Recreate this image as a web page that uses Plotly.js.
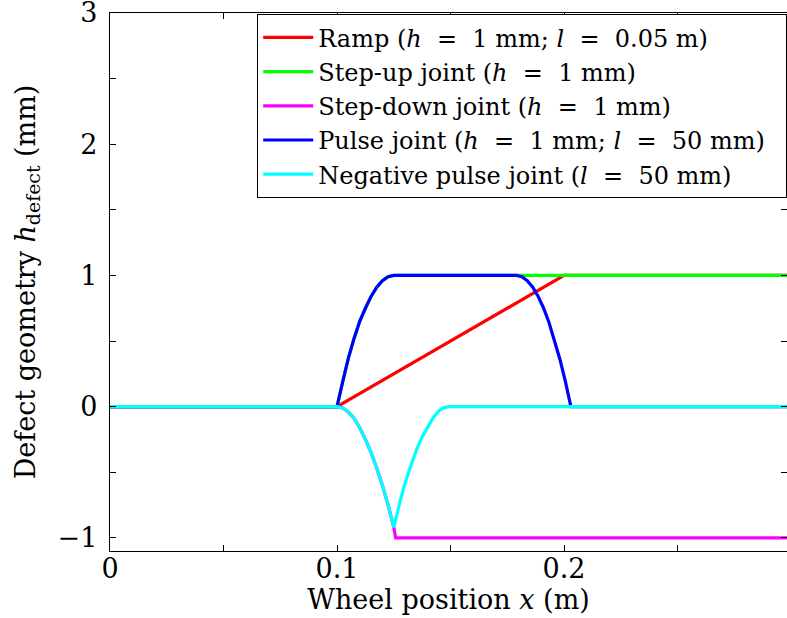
<!DOCTYPE html>
<html>
<head>
<meta charset="utf-8">
<script src="https://cdn.plot.ly/plotly-3.0.1.min.js"></script>
<style>html,body{margin:0;padding:0;background:#fff;}#chart{width:787px;height:618px;}</style>
</head>
<body>
<div id="chart"></div>
<script>
// Series names (extra non-breaking spaces mimic the wide math spacing round "=")
const EQ = '\u00a0\u00a0=\u00a0\u00a0';
const seriesNames = [
  'Ramp (<i>h</i>' + EQ + '1 mm; <i>l</i>' + EQ + '0.05 m)',
  'Step-up joint (<i>h</i>' + EQ + '1 mm)',
  'Step-down joint (<i>h</i>' + EQ + '1 mm)',
  'Pulse joint (<i>h</i>' + EQ + '1 mm; <i>l</i>' + EQ + '50 mm)\u00a0\u00a0',
  'Negative pulse joint (<i>l</i>' + EQ + '50 mm)'
];
const seriesColors = ['#ff0000', '#00ff00', '#ff00ff', '#0000ff', '#00ffff'];

// Ramp
const rampX = [0, 0.1, 0.2, 0.3];
const rampY = [0, 0, 1, 1];

// Step-up joint
const stepUpX = [0, 0.1, 0.1025, 0.105, 0.1075, 0.11, 0.1125, 0.115, 0.1175, 0.12, 0.1225, 0.125, 0.3];
const stepUpY = [0, 0, 0.19, 0.37, 0.52, 0.65, 0.75, 0.84, 0.91, 0.96, 0.99, 1, 1];

// Step-down joint
const stepDownX = [0, 0.1, 0.1025, 0.105, 0.1075, 0.11, 0.1125, 0.115, 0.1175, 0.12, 0.1225, 0.125, 0.1258, 0.3];
const stepDownY = [0, 0, -0.01, -0.04, -0.09, -0.16, -0.25, -0.35, -0.47, -0.6, -0.75, -0.92, -1, -1];

// Pulse joint
const pulseX = [0, 0.1, 0.1025, 0.105, 0.1075, 0.11, 0.1125, 0.115, 0.1175, 0.12, 0.1225, 0.125,
                0.179, 0.1814, 0.1838, 0.1862, 0.1886, 0.191, 0.1934, 0.1958, 0.1982, 0.2006, 0.203, 0.3];
const pulseY = [0, 0, 0.19, 0.37, 0.52, 0.65, 0.75, 0.84, 0.91, 0.96, 0.99, 1,
                1, 0.99, 0.96, 0.91, 0.84, 0.75, 0.64, 0.51, 0.36, 0.19, 0, 0];

// Negative pulse joint
const negPulseX = [0, 0.1, 0.1025, 0.105, 0.1075, 0.11, 0.1125, 0.115, 0.1175, 0.12, 0.1225, 0.125,
                   0.1275, 0.13, 0.1325, 0.135, 0.1375, 0.14, 0.1425, 0.145, 0.1475, 0.1495, 0.3];
const negPulseY = [0, 0, -0.01, -0.04, -0.09, -0.16, -0.25, -0.35, -0.47, -0.6, -0.75, -0.92,
                   -0.74, -0.58, -0.45, -0.33, -0.23, -0.15, -0.08, -0.03, -0.005, 0, 0];

// Axis ticks
const xTickVals = [0, 0.1, 0.2];
const xTickText = ['0', '0.1', '0.2'];
const yTickVals = [-1, 0, 1, 2, 3];
const yTickText = ['\u22121', '0', '1', '2', '3'];

const xs = [rampX, stepUpX, stepDownX, pulseX, negPulseX];
const ys = [rampY, stepUpY, stepDownY, pulseY, negPulseY];

const traces = xs.map((x, i) => ({
  type: 'scatter', mode: 'lines', x: x, y: ys[i], name: seriesNames[i],
  line: {color: seriesColors[i], width: 3.2}
}));

const FONT = '"DejaVu Serif", "Liberation Serif", serif';

const layout = {
  width: 787, height: 618,
  margin: {l: 110, r: 0, t: 13, b: 67},
  paper_bgcolor: '#fff', plot_bgcolor: '#fff',
  font: {family: FONT, color: '#000', size: 27},
  showlegend: true,
  legend: {
    x: 1, xanchor: 'right', y: 0.998, yanchor: 'top',
    bgcolor: '#fff', bordercolor: '#000', borderwidth: 1.2,
    font: {family: FONT, size: 24, color: '#000'},
    itemwidth: 50,
    tracegroupgap: 0
  },
  xaxis: {
    range: [0, 0.2982], showgrid: false, zeroline: false,
    showline: true, linecolor: '#000', linewidth: 1.2, mirror: 'ticks',
    ticks: 'inside', ticklen: 6, tickwidth: 1, tickcolor: '#000',
    tickvals: xTickVals, ticktext: xTickText,
    minor: {dtick: 0.05, tick0: 0, ticks: 'inside', ticklen: 6, tickwidth: 1, tickcolor: '#000', showgrid: false},
    tickfont: {family: FONT, size: 27},
    ticklabelstandoff: -7,
    ticklabeloverflow: 'allow',
    title: {text: 'Wheel position <i>x</i> (m)', font: {family: FONT, size: 27}, standoff: 6}
  },
  yaxis: {
    range: [-1.1, 3], showgrid: false, zeroline: false,
    showline: true, linecolor: '#000', linewidth: 1.2, mirror: 'ticks',
    ticks: 'inside', ticklen: 6, tickwidth: 1, tickcolor: '#000',
    tickvals: yTickVals, ticktext: yTickText,
    minor: {dtick: 0.5, tick0: 0, ticks: 'inside', ticklen: 6, tickwidth: 1, tickcolor: '#000', showgrid: false},
    tickfont: {family: FONT, size: 27},
    ticklabelstandoff: 6,
    ticklabeloverflow: 'allow',
    title: {text: 'Defect geometry <i>h</i><sub>defect</sub> (mm)', font: {family: FONT, size: 27}, standoff: 14}
  }
};

Plotly.newPlot('chart', traces, layout, {displayModeBar: false, staticPlot: true});
</script>
</body>
</html>
